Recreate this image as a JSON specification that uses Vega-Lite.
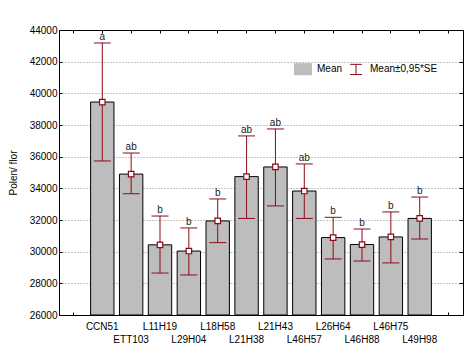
{
  "$schema": "https://vega.github.io/schema/vega-lite/v6.json",
  "autosize": {"type": "none"},
  "padding": {"left": 59, "top": 30, "right": 6, "bottom": 37},
  "width": 404,
  "height": 285,
  "background": "white",
  "config": {
    "font": "Liberation Sans",
    "view": {"stroke": "black", "strokeWidth": 1},
    "axis": {
      "labelFont": "Liberation Sans", "labelFontSize": 10, "labelColor": "#000",
      "titleFont": "Liberation Sans", "titleFontSize": 10, "titleFontWeight": "normal", "titleColor": "#000",
      "domainColor": "#000", "tickColor": "#000"
    }
  },
  "data": {"values": [
    {"name": "CCN51", "mean": 39450, "lo": 35730, "hi": 43180, "letter": "a"},
    {"name": "ETT103", "mean": 34900, "lo": 33660, "hi": 36230, "letter": "ab"},
    {"name": "L11H19", "mean": 30430, "lo": 28650, "hi": 32250, "letter": "b"},
    {"name": "L29H04", "mean": 30040, "lo": 28530, "hi": 31500, "letter": "b"},
    {"name": "L18H58", "mean": 31940, "lo": 30570, "hi": 33330, "letter": "b"},
    {"name": "L21H38", "mean": 34740, "lo": 32100, "hi": 37310, "letter": "ab"},
    {"name": "L21H43", "mean": 35350, "lo": 32890, "hi": 37750, "letter": "ab"},
    {"name": "L46H57", "mean": 33830, "lo": 32100, "hi": 35540, "letter": "ab"},
    {"name": "L26H64", "mean": 30890, "lo": 29540, "hi": 32170, "letter": "b"},
    {"name": "L46H88", "mean": 30450, "lo": 29410, "hi": 31430, "letter": "b"},
    {"name": "L46H75", "mean": 30930, "lo": 29290, "hi": 32510, "letter": "b"},
    {"name": "L49H98", "mean": 32100, "lo": 30800, "hi": 33450, "letter": "b"}
  ]},
  "layer": [
    {
      "mark": {"type": "bar", "stroke": "black", "strokeWidth": 1, "opacity": 1},
      "encoding": {
        "x": {
          "field": "name", "type": "nominal", "sort": null,
          "scale": {"domain": ["pad1", "CCN51", "ETT103", "L11H19", "L29H04", "L18H58", "L21H38", "L21H43", "L46H57", "L26H64", "L46H88", "L46H75", "L49H98", "pad2"], "paddingInner": 0.19, "paddingOuter": 0.095},
          "axis": {
            "orient": "bottom", "title": null, "labelAngle": 0, "labelOverlap": false, "labelBound": false,
            "labelPadding": 9, "labelLineHeight": 13, "tickSize": -3, "grid": false,
            "labelExpr": "indexof(['ETT103','L29H04','L21H38','L46H57','L46H88','L49H98'], datum.value) >= 0 ? ['', datum.value] : (indexof(['pad1','pad2'], datum.value) >= 0 ? '' : datum.value)"
          }
        },
        "y": {
          "field": "mean", "type": "quantitative",
          "scale": {"domain": [26000, 44000], "nice": false, "zero": false},
          "axis": {
            "orient": "left", "title": "Polen/ flor", "titlePadding": 11,
            "values": [26000, 28000, 30000, 32000, 34000, 36000, 38000, 40000, 42000, 44000],
            "format": "d", "labelPadding": 5, "tickSize": -3,
            "grid": true, "gridDash": [1, 2], "gridColor": "#8a8a8a", "gridWidth": 1
          }
        },
        "y2": {"datum": 26000},
        "color": {
          "datum": "Mean", "type": "nominal",
          "scale": {"domain": ["Mean", "Mean±0,95*SE"], "range": ["#bdbdbd", "#8b0a1a"]},
          "legend": {
            "orient": "none", "legendX": 235, "legendY": 30, "direction": "horizontal", "title": null,
            "labelFontSize": 10, "labelFont": "Liberation Sans", "labelColor": "#000",
            "symbolSize": 289, "symbolStrokeWidth": 1, "columnPadding": 4, "labelOffset": 5,
            "encode": {"symbols": {"update": {
              "shape": {"signal": "datum.value === 'Mean' ? 'M-1,-0.65H1V0.65H-1Z' : 'M-0.7,-0.6H0.7M0,-0.6V0.6M-0.7,0.6H0.7'"},
              "fill": {"signal": "datum.value === 'Mean' ? '#bdbdbd' : 'transparent'"},
              "stroke": {"signal": "datum.value === 'Mean' ? '#000' : '#8b0a1a'"},
              "opacity": {"value": 1}
            }}}
          }
        }
      }
    },
    {
      "mark": {"type": "rule", "strokeWidth": 1},
      "encoding": {
        "x": {"field": "name", "type": "nominal", "axis": {"orient": "top", "labels": false, "title": null, "tickSize": -3, "grid": false}},
        "y": {"field": "lo", "type": "quantitative", "axis": {"orient": "right", "labels": false, "title": null, "tickSize": -4, "grid": false, "values": [26000, 28000, 30000, 32000, 34000, 36000, 38000, 40000, 42000, 44000]}},
        "y2": {"field": "hi"},
        "color": {
          "datum": "Mean±0,95*SE", "type": "nominal",
          "legend": {
            "orient": "none", "legendX": 235, "legendY": 30, "direction": "horizontal", "title": null,
            "labelFontSize": 10, "labelFont": "Liberation Sans", "labelColor": "#000",
            "symbolSize": 289, "symbolStrokeWidth": 1, "columnPadding": 4, "labelOffset": 5,
            "encode": {"symbols": {"update": {
              "shape": {"signal": "datum.value === 'Mean' ? 'M-1,-0.65H1V0.65H-1Z' : 'M-0.7,-0.6H0.7M0,-0.6V0.6M-0.7,0.6H0.7'"},
              "fill": {"signal": "datum.value === 'Mean' ? '#bdbdbd' : 'transparent'"},
              "stroke": {"signal": "datum.value === 'Mean' ? '#000' : '#8b0a1a'"},
              "opacity": {"value": 1}
            }}}
          }
        }
      }
    },
    {
      "mark": {"type": "tick", "color": "#8b0a1a", "size": 17, "thickness": 1, "opacity": 1},
      "encoding": {
        "x": {"field": "name", "type": "nominal", "axis": null},
        "y": {"field": "hi", "type": "quantitative", "axis": null}
      }
    },
    {
      "mark": {"type": "tick", "color": "#8b0a1a", "size": 17, "thickness": 1, "opacity": 1},
      "encoding": {
        "x": {"field": "name", "type": "nominal", "axis": null},
        "y": {"field": "lo", "type": "quantitative", "axis": null}
      }
    },
    {
      "mark": {"type": "point", "shape": "square", "filled": true, "fill": "white", "stroke": "#8b0a1a", "strokeWidth": 1.2, "size": 30, "opacity": 1},
      "encoding": {
        "x": {"field": "name", "type": "nominal", "axis": null},
        "y": {"field": "mean", "type": "quantitative", "axis": null}
      }
    },
    {
      "mark": {"type": "text", "baseline": "bottom", "dy": -1, "fontSize": 10, "font": "Liberation Sans", "color": "#222"},
      "encoding": {
        "x": {"field": "name", "type": "nominal", "axis": null},
        "y": {"field": "hi", "type": "quantitative", "axis": null},
        "text": {"field": "letter"}
      }
    }
  ],
  "resolve": {"axis": {"x": "independent", "y": "independent"}}
}
